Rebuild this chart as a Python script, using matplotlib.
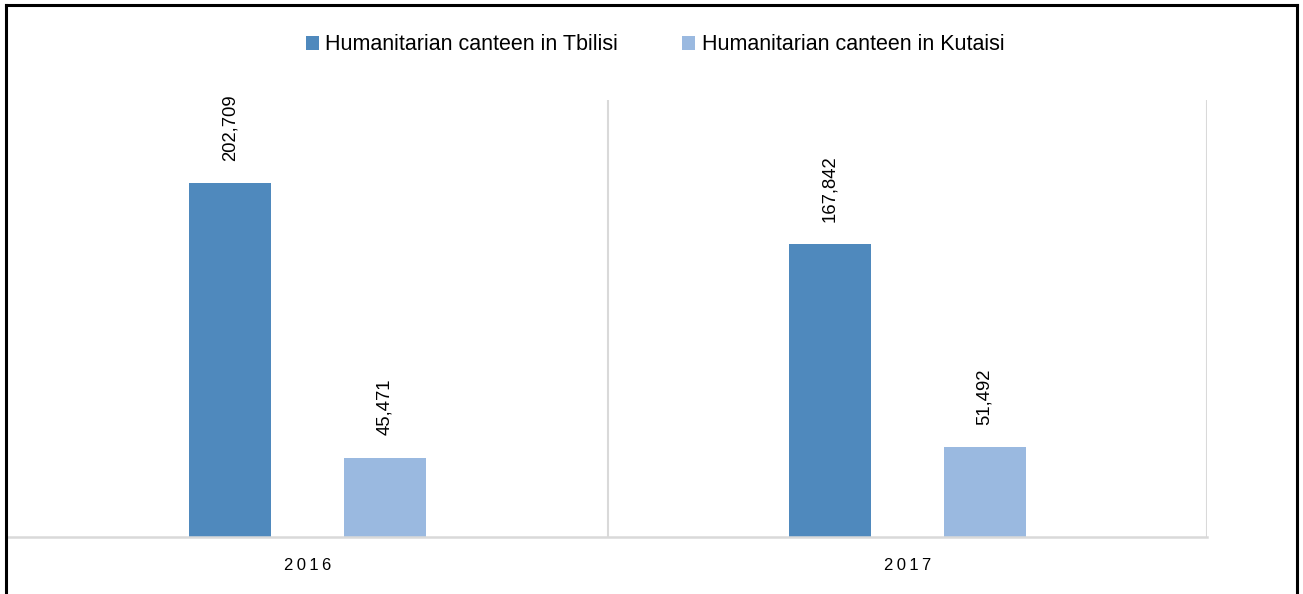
import numpy as np
import matplotlib
matplotlib.use("Agg")
from matplotlib import pyplot as plt
from matplotlib.lines import Line2D

plt.rcParams['font.family'] = ['Liberation Sans', 'DejaVu Sans']

years = ['2016', '2017']
tbilisi = [202709, 167842]
kutaisi = [45471, 51492]
series_names = ['Humanitarian canteen in Tbilisi', 'Humanitarian canteen in Kutaisi']
colors = ['#4F89BD', '#9AB9E0']

fig = plt.figure(figsize=(13.03, 5.94), dpi=100)
ax = fig.add_axes([8/1303, 57/594, 1199/1303, 437/594])

x = np.arange(len(years))
w = 0.137
off = 0.129
b1 = ax.bar(x - off, tbilisi, w, color=colors[0], label=series_names[0])
b2 = ax.bar(x + off, kutaisi, w, color=colors[1], label=series_names[1])

for bars, vals in [(b1, tbilisi), (b2, kutaisi)]:
    for r, v in zip(bars, vals):
        ax.annotate(f'{v:,}', (r.get_x() + r.get_width()/2, v),
                    xytext=(0, 16), textcoords='offset points',
                    rotation=90, ha='center', va='bottom', fontsize=13.3)

ax.set_xlim(-0.5, 1.5)
ax.set_ylim(0, 250300)
ax.set_yticks([])
ax.set_xticks(x)
# letter-spaced year labels
ax.set_xticklabels(['\u2009'.join(y) for y in years], fontsize=12)
ax.tick_params(axis='x', length=0, pad=15)
for s in ['top', 'left', 'right']:
    ax.spines[s].set_visible(False)
ax.spines['bottom'].set_color('#d9d9d9')
ax.spines['bottom'].set_linewidth(1.8)
for xv in [0.5, 1.5]:
    ax.axvline(xv, color='#d9d9d9', lw=1.5, zorder=0)

fig.legend(loc='center', bbox_to_anchor=(655/1303, 1 - 45/594), ncol=2,
           frameon=False, fontsize=15.5, handlelength=0.6, handleheight=0.6,
           handletextpad=0.3, columnspacing=3.0)

# black frame around the chart (bottom edge falls outside the image)
W, H = 1303, 594
for xs, ys in [([6, 6], [0, 589]), ([6, 1297], [589, 589]), ([1297, 1297], [589, 0])]:
    fig.add_artist(Line2D([v/W for v in xs], [v/H for v in ys], color='black', lw=2.2,
                          transform=fig.transFigure))

fig.savefig('out.png', dpi=100)
